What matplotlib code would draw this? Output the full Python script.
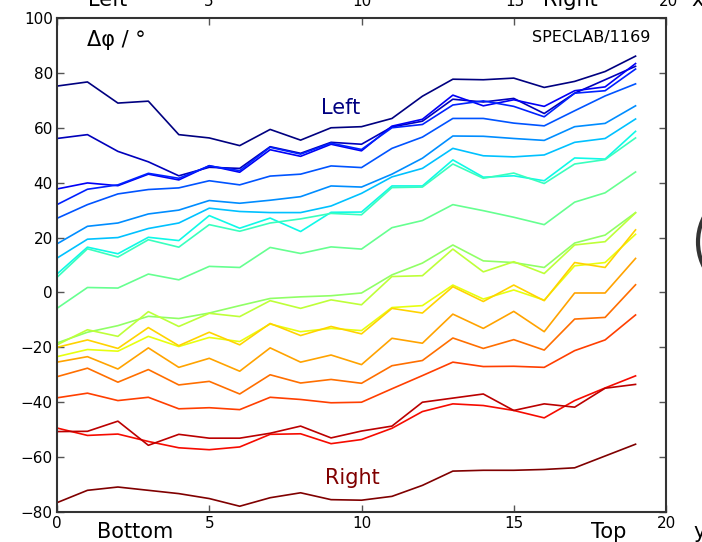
import numpy as np
import matplotlib
matplotlib.use("Agg")
import matplotlib.pyplot as plt
from matplotlib.patches import Ellipse

# position index along the strip
pos = np.arange(20)

# one trace per channel, ordered from top (Left) to bottom (Right)
ch00 = [75.2, 76.7, 69.0, 69.7, 57.5, 56.3, 53.5, 59.4, 55.5, 60.0, 60.4, 63.4, 71.5, 77.7, 77.5, 78.1, 74.7, 76.9, 80.5, 86.1]
ch01 = [56.1, 57.5, 51.4, 47.6, 42.5, 45.6, 45.2, 53.1, 50.7, 54.7, 54.0, 60.3, 62.4, 70.4, 69.4, 70.7, 65.2, 72.6, 77.5, 82.4]
ch02 = [37.7, 39.9, 38.9, 43.1, 41.0, 46.2, 43.8, 52.0, 49.6, 54.0, 51.6, 60.6, 63.1, 71.9, 68.0, 70.2, 67.8, 73.5, 74.9, 83.4]
ch03 = [32.0, 37.6, 39.2, 43.4, 41.6, 46.1, 44.4, 52.9, 50.4, 54.4, 52.1, 60.0, 61.2, 68.3, 69.8, 67.8, 64.0, 72.6, 73.5, 81.4]
ch04 = [27.0, 32.0, 35.9, 37.5, 38.1, 40.7, 39.2, 42.4, 43.1, 46.1, 45.5, 52.5, 56.6, 63.4, 63.4, 61.7, 60.7, 66.2, 71.6, 76.0]
ch05 = [17.7, 24.1, 25.3, 28.6, 30.0, 33.5, 32.5, 33.6, 34.9, 38.8, 38.4, 43.1, 48.9, 57.0, 56.9, 56.1, 55.4, 60.4, 61.6, 68.0]
ch06 = [12.5, 19.4, 20.0, 23.3, 25.3, 30.7, 29.5, 29.1, 29.1, 31.5, 36.1, 42.1, 45.2, 52.5, 49.8, 49.4, 50.1, 54.7, 56.1, 63.2]
ch07 = [6.7, 16.5, 14.1, 20.1, 18.9, 28.0, 23.4, 27.1, 22.2, 29.2, 29.3, 38.8, 38.8, 48.3, 42.0, 42.5, 40.7, 49.0, 48.6, 58.7]
ch08 = [5.5, 15.9, 12.9, 19.2, 16.5, 24.7, 22.3, 25.3, 26.8, 28.8, 28.3, 38.2, 38.4, 46.8, 41.6, 43.5, 39.7, 46.8, 48.4, 56.3]
ch09 = [-5.8, 1.8, 1.6, 6.7, 4.6, 9.5, 9.1, 16.4, 14.2, 16.6, 15.8, 23.6, 26.2, 32.0, 29.8, 27.4, 24.7, 32.9, 36.3, 43.9]
ch10 = [-18.4, -14.5, -12.1, -8.7, -9.5, -7.5, -4.8, -2.2, -1.6, -1.2, -0.2, 6.4, 10.7, 17.3, 11.5, 10.9, 9.1, 18.0, 20.9, 29.1]
ch11 = [-19.1, -13.6, -16.0, -7.0, -12.4, -7.6, -8.8, -3.0, -5.8, -2.7, -4.5, 5.8, 6.1, 15.8, 7.5, 11.2, 6.9, 17.3, 18.5, 29.0]
ch12 = [-23.4, -20.8, -21.4, -16.0, -19.7, -16.4, -17.9, -11.5, -14.3, -13.1, -13.9, -5.5, -4.8, 2.7, -2.4, 0.9, -2.8, 9.7, 10.9, 21.2]
ch13 = [-20.0, -17.3, -20.4, -12.8, -19.4, -14.5, -19.1, -11.3, -15.7, -12.4, -15.1, -5.8, -7.5, 2.1, -3.3, 2.7, -3.0, 10.9, 9.1, 22.8]
ch14 = [-25.4, -23.4, -27.9, -20.2, -27.3, -24.0, -28.7, -20.2, -25.4, -22.8, -26.3, -16.7, -18.5, -7.9, -13.1, -6.9, -14.3, -0.2, -0.2, 12.4]
ch15 = [-30.7, -27.6, -32.7, -28.1, -33.7, -32.4, -37.0, -30.0, -33.0, -31.7, -33.1, -26.7, -24.8, -16.6, -20.4, -17.2, -21.0, -9.7, -9.1, 2.8]
ch16 = [-38.4, -36.7, -39.4, -38.2, -42.4, -42.0, -42.7, -38.2, -39.0, -40.2, -40.0, -35.1, -30.3, -25.4, -27.0, -26.9, -27.3, -21.2, -17.3, -8.2]
ch17 = [-49.4, -52.1, -51.6, -54.3, -56.6, -57.3, -56.3, -51.7, -51.5, -55.1, -53.6, -49.5, -43.4, -40.6, -41.2, -43.0, -45.7, -39.4, -34.8, -30.4]
ch18 = [-50.7, -50.6, -46.9, -55.7, -51.7, -53.1, -53.1, -51.3, -48.7, -53.0, -50.5, -48.7, -40.0, -38.5, -37.0, -43.0, -40.6, -41.8, -34.9, -33.5]
ch19 = [-76.6, -72.1, -70.9, -72.1, -73.3, -75.1, -77.9, -74.8, -73.0, -75.5, -75.7, -74.3, -70.3, -65.1, -64.8, -64.8, -64.5, -63.9, -59.6, -55.3]

traces = [ch00, ch01, ch02, ch03, ch04, ch05, ch06, ch07, ch08, ch09,
          ch10, ch11, ch12, ch13, ch14, ch15, ch16, ch17, ch18, ch19]

xticks = [0, 5, 10, 15, 20]
yticks = [-80, -60, -40, -20, 0, 20, 40, 60, 80, 100]

fig = plt.figure(figsize=(7.02, 5.42), dpi=100)
ax = fig.add_axes([57/702, 30/542, 609/702, 494/542])

n = len(traces)
for i, tr in enumerate(traces):
    ax.plot(pos, tr, color=plt.cm.jet(i/(n-1)), lw=1.2)

ax.set_xlim(0, 20)
ax.set_ylim(-80, 100)
ax.set_xticks(xticks)
ax.set_yticks(yticks)
ax.tick_params(direction='in', length=5, width=1, top=True, right=True,
               labelsize=11, color='#555555', pad=3)
for s in ax.spines.values():
    s.set_linewidth(1.5)
    s.set_color('#333333')

# labels inside the axes
ax.text(0.05, 0.955, u'\u0394\u03c6 / \u00b0', transform=ax.transAxes,
        fontsize=15, ha='left', va='center')
ax.text(0.975, 0.975, 'SPECLAB/1169', transform=ax.transAxes,
        fontsize=11.5, ha='right', va='top')
ax.text(9.3, 67.3, 'Left', color=plt.cm.jet(0.0), fontsize=15, ha='center', va='center')
ax.text(9.7, -67.5, 'Right', color=plt.cm.jet(1.0), fontsize=15, ha='center', va='center')

# labels of the neighbouring panels, cut by the figure edge
fig.text(135/702, 1 - 538/542, 'Bottom', fontsize=15, ha='center', va='baseline')
fig.text(609/702, 1 - 538/542, 'Top', fontsize=15, ha='center', va='baseline')
fig.text(693/702, 1 - 538/542, 'y', fontsize=15, ha='left', va='baseline')
top_row = [(108, 'Left'), (209, '5'), (362, '10'), (515, '15'), (570, 'Right'), (668, '20'), (698, 'x')]
for px, s in top_row:
    fs = 15 if s in ('Left', 'Right', 'x') else 11
    fig.text(px/702, 1 - 6/542, s, fontsize=fs, ha='center', va='baseline')

# edge of a round inset to the right
fig.patches.append(Ellipse((753/702, 1 - 242/542), 110/702, 110/542,
                           transform=fig.transFigure, fill=False,
                           edgecolor='#333333', lw=3))

fig.savefig('out.png', dpi=100)
